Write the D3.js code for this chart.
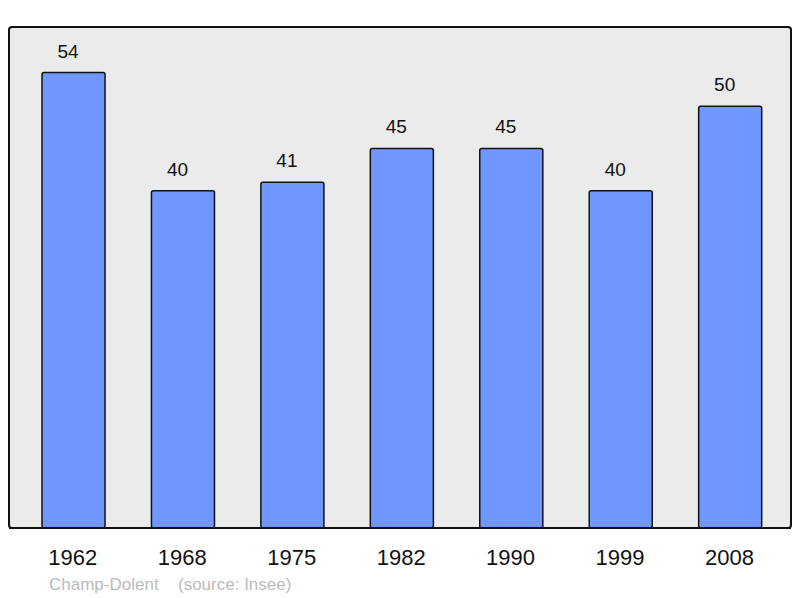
<!DOCTYPE html>
<html>
<head>
<meta charset="utf-8">
<script src="https://cdn.jsdelivr.net/npm/d3@7"></script>
<style>
  body { margin: 0; background: #fff; }
  svg { display: block; font-family: "Liberation Sans", Arial, sans-serif; }
</style>
</head>
<body>
<svg width="800" height="598"></svg>
<script>
const years = ['1962', '1968', '1975', '1982', '1990', '1999', '2008'];
const population = [54, 40, 41, 45, 45, 40, 50];
const commune = 'Champ-Dolent';
const source = '(source: Insee)';

const frame = { left: 9, top: 27, right: 791, bottom: 528 };

const svg = d3.select('svg');

const x = d3.scaleBand()
  .domain(years)
  .range([18.8, 784.9])
  .paddingInner(0.424)
  .paddingOuter(0.212);

const y = d3.scaleLinear()
  .domain([0, d3.max(population) * 1.1])
  .range([frame.bottom, frame.top]);

const data = years.map((yr, i) => ({ year: yr, value: population[i] }));

svg.append('rect')
  .attr('x', frame.left)
  .attr('y', frame.top)
  .attr('width', frame.right - frame.left)
  .attr('height', frame.bottom - frame.top)
  .attr('rx', 3)
  .attr('fill', '#ebebeb')
  .attr('stroke', '#111')
  .attr('stroke-width', 2);

svg.selectAll('.bar')
  .data(data)
  .enter()
  .append('rect')
  .attr('class', 'bar')
  .attr('x', d => x(d.year))
  .attr('y', d => y(d.value))
  .attr('width', x.bandwidth())
  .attr('height', d => y(0) - y(d.value))
  .attr('rx', 2)
  .attr('fill', '#7096ff')
  .attr('stroke', '#111')
  .attr('stroke-width', 1.5);

// redraw the bottom edge of the frame over the bars
svg.append('line')
  .attr('x1', frame.left)
  .attr('x2', frame.right)
  .attr('y1', frame.bottom)
  .attr('y2', frame.bottom)
  .attr('stroke', '#111')
  .attr('stroke-width', 2);

// value labels sit a little left of the bar centre in the original
svg.selectAll('.value')
  .data(data)
  .enter()
  .append('text')
  .attr('class', 'value')
  .attr('x', d => x(d.year) + x.bandwidth() / 2 - 5.5)
  .attr('y', d => y(d.value) - 15)
  .attr('text-anchor', 'middle')
  .attr('font-size', 19)
  .attr('fill', '#111')
  .text(d => d.value);

svg.selectAll('.year')
  .data(years)
  .enter()
  .append('text')
  .attr('class', 'year')
  .attr('x', d => x(d) + x.bandwidth() / 2 - 0.7)
  .attr('y', 565)
  .attr('text-anchor', 'middle')
  .attr('font-size', 22)
  .attr('fill', '#111')
  .text(d => d);

svg.append('text')
  .attr('x', 49)
  .attr('y', 590)
  .attr('font-size', 17)
  .attr('fill', '#bbb')
  .text(commune);

svg.append('text')
  .attr('x', 178)
  .attr('y', 590)
  .attr('font-size', 17)
  .attr('fill', '#bbb')
  .text(source);
</script>
</body>
</html>
